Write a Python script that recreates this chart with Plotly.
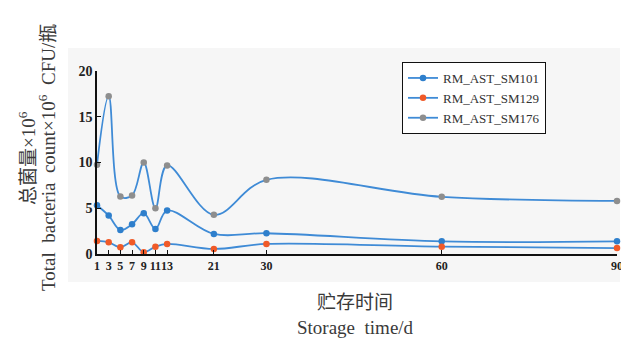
import plotly.graph_objects as go

days = [1, 3, 5, 7, 9, 11, 13, 21, 30, 60, 90]
sm101 = [5.33, 4.2, 2.63, 3.25, 4.46, 2.74, 4.75, 2.19, 2.27, 1.38, 1.38]
sm129 = [1.43, 1.28, 0.73, 1.28, 0.19, 0.8, 1.1, 0.55, 1.1, 0.8, 0.65]
sm176 = [9.76, 17.25, 6.28, 6.39, 10.0, 5.0, 9.68, 4.28, 8.11, 6.25, 5.8]
names = ["RM_AST_SM101", "RM_AST_SM129", "RM_AST_SM176"]
marker_colors = ["#2e7fcc", "#f05a28", "#8e8e8e"]
yticks = [0, 5, 10, 15, 20]

line_color = "#3f8bd6"
serif = "Liberation Serif"

fig = go.Figure()
for name, vals, mc in zip(names, [sm101, sm129, sm176], marker_colors):
    fig.add_trace(go.Scatter(
        x=days, y=vals, name=name, mode="lines+markers",
        line=dict(color=line_color, width=1.8, shape="spline", smoothing=1.0),
        marker=dict(color=mc, size=6.5),
        cliponaxis=False,
    ))

W, H = 621, 338
L, R, T, B = 97, 4, 71, 84
pw = W - L - R
ph = H - T - B

def px(x):
    return (x - L) / pw

def py(y):
    return (H - B - y) / ph

fig.add_shape(type="rect", xref="paper", yref="paper",
              x0=px(68), x1=px(620), y0=py(282), y1=py(48),
              fillcolor="#f6f6f6", line_width=0, layer="below")

title_font = dict(family=serif + ", Noto Sans CJK SC", size=19, color="#3a3a3a")
fig.add_annotation(xref="paper", yref="paper", x=px(27), y=py(158), text="总菌量×10<sup>6</sup>",
                   textangle=-90, showarrow=False, font=title_font, xanchor="center", yanchor="middle")
fig.add_annotation(xref="paper", yref="paper", x=px(47), y=py(158),
                   text="Total  bacteria  count×10<sup>6</sup>  CFU/瓶",
                   textangle=-90, showarrow=False, font=title_font, xanchor="center", yanchor="middle")
fig.add_annotation(xref="paper", yref="paper", x=px(355), y=py(302), text="贮存时间",
                   showarrow=False, font=title_font, xanchor="center", yanchor="middle")
fig.add_annotation(xref="paper", yref="paper", x=px(355), y=py(327), text="Storage  time/d",
                   showarrow=False, font=title_font, xanchor="center", yanchor="middle")

ytick_font = dict(family=serif, size=14, color="#222", weight="bold")
xtick_font = dict(family=serif, size=12, color="#222", weight="bold")

fig.update_layout(
    width=W, height=H,
    margin=dict(l=L, r=R, t=T, b=B, autoexpand=False),
    paper_bgcolor="white", plot_bgcolor="rgba(0,0,0,0)",
    font=dict(family=serif, color="#222"),
    legend=dict(x=px(402), y=py(62), xanchor="left", yanchor="top",
                bgcolor="white", bordercolor="#111", borderwidth=1,
                font=dict(family=serif, size=13, color="#333"),
                tracegroupgap=0, itemwidth=30),
    xaxis=dict(range=[1, 90], tickvals=days, ticktext=[str(d) for d in days],
               automargin=False, tickangle=0, ticklabeloverflow="allow",
               showgrid=False, zeroline=False, showline=True, linecolor="#111", linewidth=1.5,
               ticks="inside", ticklen=4, tickcolor="#111", tickfont=xtick_font),
    yaxis=dict(range=[0, 20], tickvals=yticks, showgrid=False, zeroline=False,
               automargin=False, ticklabeloverflow="allow",
               showline=True, linecolor="#111", linewidth=1.5,
               ticks="inside", ticklen=4, tickcolor="#111", tickfont=ytick_font),
)

fig.write_html("out.html", config={"displayModeBar": False},
               post_script="document.body.style.margin='0';document.body.style.overflow='hidden';")
